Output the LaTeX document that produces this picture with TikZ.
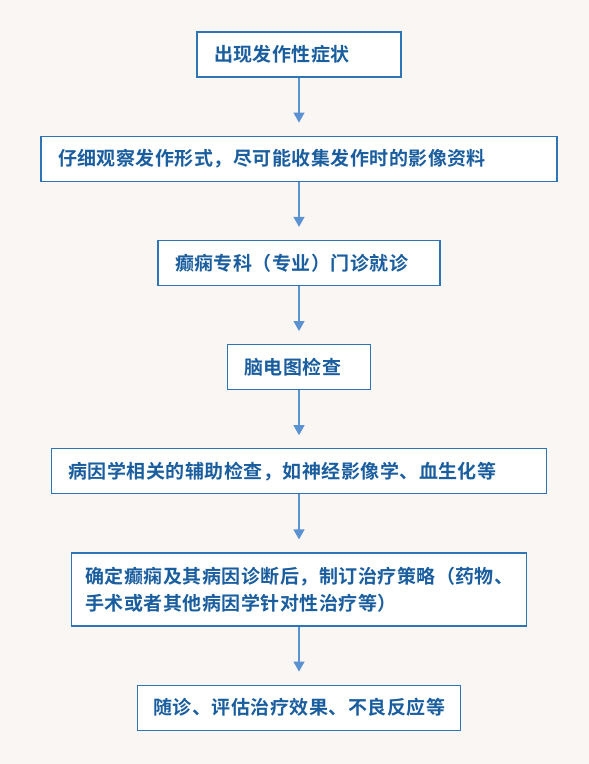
\documentclass[tikz,border=0pt]{standalone}
\usepackage{fontspec}
\usepackage{tikz}
\usetikzlibrary{positioning, arrows.meta}
\newfontfamily\cjk{Noto Sans CJK SC}[BoldFont={Noto Sans CJK SC Bold}, LetterSpace=2.5]
\definecolor{pagebg}{HTML}{FAF6F4}
\definecolor{boxline}{HTML}{2E75B6}
\definecolor{boxtext}{HTML}{1A5E9F}
\definecolor{flowline}{HTML}{5B92D2}

\begin{document}
\begin{tikzpicture}[x=1pt, y=1pt, line width=1.2pt,
  stepbox/.style={draw=boxline, fill=white, text=boxtext, align=left,
    inner xsep=17pt, inner ysep=4pt, minimum height=45pt,
    font=\cjk\bfseries\fontsize{19pt}{27pt}\selectfont},
  flow/.style={draw=flowline, -{Triangle[length=10pt, width=11pt]}, shorten >=13pt},
  node distance=58pt]
% --- Background ---
\fill[pagebg] (0,0) rectangle (589,-764);
\useasboundingbox (0,0) rectangle (589,-764);
% --- Steps ---
\node[stepbox, text width=170pt] (symptom) at (299,-54.5) {出现发作性症状};
\node[stepbox, text width=482pt, below=of symptom] (observe) {仔细观察发作形式，尽可能收集发作时的影像资料};
\node[stepbox, text width=248pt, below=of observe] (clinic) {癫痫专科（专业）门诊就诊};
\node[stepbox, text width=109pt, below=of clinic] (eeg) {脑电图检查};
\node[stepbox, text width=461pt, below=of eeg] (aux) {病因学相关的辅助检查，如神经影像学、血生化等};
\node[stepbox, inner xsep=14pt, text width=427pt, minimum height=73pt, below=of aux] (plan)
  {确定癫痫及其病因诊断后，制订治疗策略（药物、\\手术或者其他病因学针对性治疗等）};
\node[stepbox, inner xsep=16pt, text width=291pt, below=of plan] (follow) {随诊、评估治疗效果、不良反应等};
% --- Arrows ---
\draw[flow] (symptom) -- (observe);
\draw[flow] (observe) -- (clinic);
\draw[flow] (clinic) -- (eeg);
\draw[flow] (eeg) -- (aux);
\draw[flow] (aux) -- (plan);
\draw[flow] (plan) -- (follow);
\end{tikzpicture}
\end{document}
